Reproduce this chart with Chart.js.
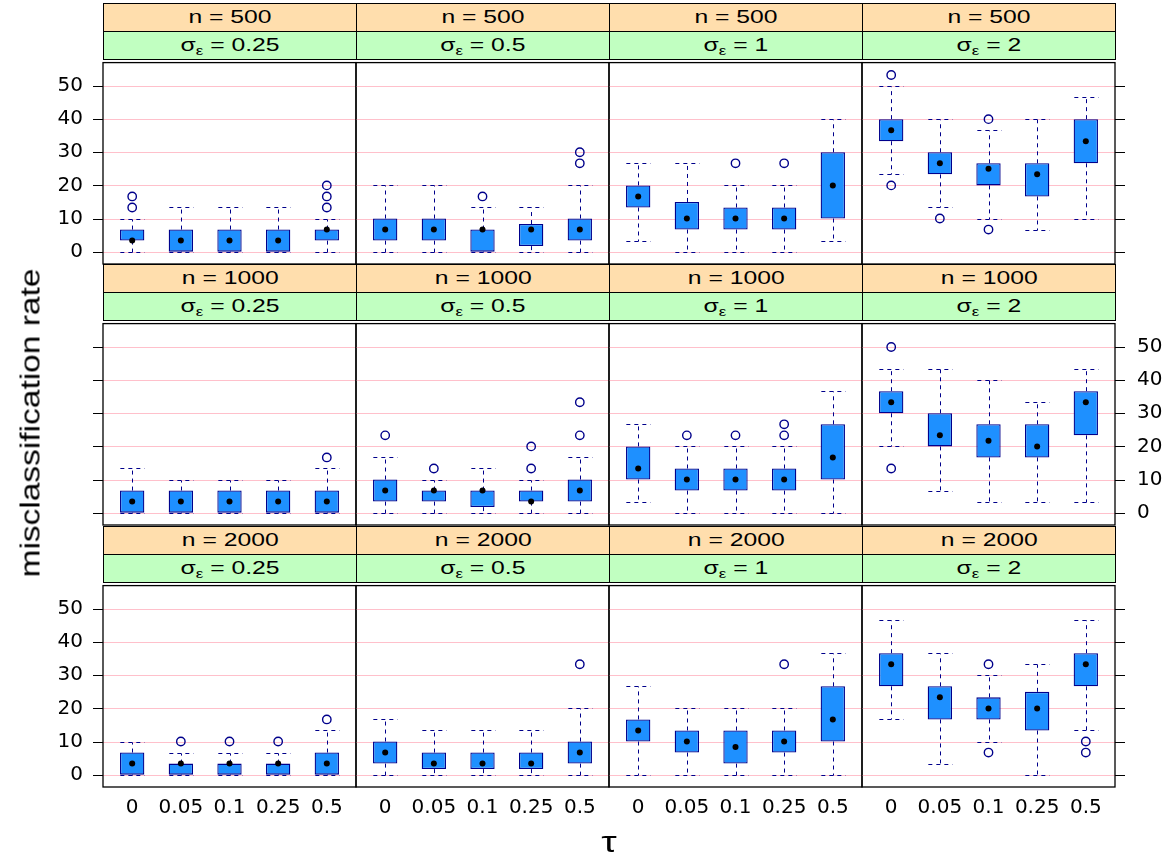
<!DOCTYPE html>
<html><head><meta charset="utf-8">
<script src="https://cdn.jsdelivr.net/npm/chart.js@4.4.1/dist/chart.umd.min.js"></script>
<style>
html,body{margin:0;padding:0;background:#fff;}
#fig{position:relative;width:1170px;height:861px;overflow:hidden;font-family:"Liberation Sans",Arial,sans-serif;}
.strip{position:absolute;box-sizing:border-box;border:1px solid #000;text-align:center;color:#000;white-space:nowrap;}
.strip span{display:inline-block;font-size:19px;line-height:26px;transform:scaleX(1.3);transform-origin:50% 50%;}
.s1{background:#FFDEAD;}
.s2{background:#C1FFC1;}
.strip sub{font-size:13px;vertical-align:-4px;line-height:0;}
canvas{position:absolute;}
.ylab{position:absolute;left:31px;top:423px;transform:translate(-50%,-50%) rotate(-90deg) scaleX(1.24);font-size:27px;white-space:nowrap;}
.xlab{position:absolute;left:609px;top:842px;transform:translate(-50%,-50%) scaleX(1.3);font-size:30px;}
</style></head><body><div id="fig"></div>
<script>
// facet levels and axis labels
const nLevels = ['500', '1000', '2000'];
const sigmaLevels = ['0.25', '0.5', '1', '2'];
const tauLabels = ['0', '0.05', '0.1', '0.25', '0.5'];
const yTicks = [0, 10, 20, 30, 40, 50];
const yMin = -3.73, yMax = 57.07;

// panels in reading order: n=500 (σ 0.25,0.5,1,2), n=1000 (...), n=2000 (...)
const lowerWhisker = [
  [0, 0, 0, 0, 0], [0, 0, 0, 0, 0], [3.33, 0, 0, 0, 3.33], [23.33, 13.33, 10, 6.67, 10],
  [0, 0, 0, 0, 0], [0, 0, 0, 0, 0], [3.33, 0, 0, 0, 0], [20, 6.67, 3.33, 3.33, 3.33],
  [0, 0, 0, 0, 0], [0, 0, 0, 0, 0], [0, 0, 0, 0, 0], [16.67, 3.33, 10, 0, 13.33]
];
const lowerHinge = [
  [3.33, 0, 0, 0, 3.33], [3.33, 3.33, 0, 1.67, 3.33], [13.33, 6.67, 6.67, 6.67, 10], [33.33, 23.33, 20, 16.67, 26.67],
  [0, 0, 0, 0, 0], [3.33, 3.33, 1.67, 3.33, 3.33], [10, 6.67, 6.67, 6.67, 10], [30, 20, 16.67, 16.67, 23.33],
  [0, 0, 0, 0, 0], [3.33, 1.67, 1.67, 1.67, 3.33], [10, 6.67, 3.33, 6.67, 10], [26.67, 16.67, 16.67, 13.33, 26.67]
];
const medians = [
  [3.33, 3.33, 3.33, 3.33, 6.67], [6.67, 6.67, 6.67, 6.67, 6.67], [16.67, 10, 10, 10, 20], [36.67, 26.67, 25, 23.33, 33.33],
  [3.33, 3.33, 3.33, 3.33, 3.33], [6.67, 6.67, 6.67, 3.33, 6.67], [13.33, 10, 10, 10, 16.67], [33.33, 23.33, 21.67, 20, 33.33],
  [3.33, 3.33, 3.33, 3.33, 3.33], [6.67, 3.33, 3.33, 3.33, 6.67], [13.33, 10, 8.33, 10, 16.67], [33.33, 23.33, 20, 20, 33.33]
];
const upperHinge = [
  [6.67, 6.67, 6.67, 6.67, 6.67], [10, 10, 6.67, 8.33, 10], [20, 15, 13.33, 13.33, 30], [40, 30, 26.67, 26.67, 40],
  [6.67, 6.67, 6.67, 6.67, 6.67], [10, 6.67, 6.67, 6.67, 10], [20, 13.33, 13.33, 13.33, 26.67], [36.67, 30, 26.67, 26.67, 36.67],
  [6.67, 3.33, 3.33, 3.33, 6.67], [10, 6.67, 6.67, 6.67, 10], [16.67, 13.33, 13.33, 13.33, 26.67], [36.67, 26.67, 23.33, 25, 36.67]
];
const upperWhisker = [
  [10, 13.33, 13.33, 13.33, 10], [20, 20, 13.33, 13.33, 20], [26.67, 26.67, 20, 20, 40], [50, 40, 36.67, 40, 46.67],
  [13.33, 10, 10, 10, 13.33], [16.67, 10, 13.33, 10, 16.67], [26.67, 20, 20, 20, 36.67], [43.33, 43.33, 40, 33.33, 43.33],
  [10, 6.67, 6.67, 6.67, 13.33], [16.67, 13.33, 13.33, 13.33, 20], [26.67, 20, 20, 20, 36.67], [46.67, 36.67, 30, 33.33, 46.67]
];
const outliers = [
  [[13.33, 16.67], [], [], [], [13.33, 16.67, 20]],
  [[], [], [16.67], [], [26.67, 30]],
  [[], [], [26.67], [26.67], []],
  [[53.33, 20], [10], [40, 6.67], [], []],
  [[], [], [], [], [16.67]],
  [[23.33], [13.33], [], [13.33, 20], [23.33, 33.33]],
  [[], [23.33], [23.33], [23.33, 26.67], []],
  [[50, 13.33], [], [], [], []],
  [[], [10], [10], [10], [16.67]],
  [[], [], [], [], [33.33]],
  [[], [], [], [33.33], []],
  [[], [], [33.33, 6.67], [], [10, 6.67]]
];

// layout
const colLeft = [103, 356, 609, 862];
const colW = 253;
const rowTop = [3, 264, 526];
const stripH = 28, plotH = 205;
const M = 60, T = 2, B = 50;
const FONT = 'DejaVu Sans, Liberation Sans, sans-serif';
const DARK = '#00008B';

Chart.defaults.borderColor = 'rgba(0,0,0,0)';
Chart.defaults.scale.grid.display = false;

const fig = document.getElementById('fig');

// pink reference lines and black tick marks, placed with the y scale
const gridPlugin = {
  id: 'refgrid',
  beforeDatasetsDraw(chart, args, opts) {
    const { ctx, chartArea: a } = chart;
    const y = chart.scales.y;
    ctx.save();
    ctx.fillStyle = '#FFC0CB';
    yTicks.forEach(v => {
      const py = Math.round(y.getPixelForValue(v));
      ctx.fillRect(a.left, py, a.right - a.left, 1);
    });
    ctx.fillStyle = '#000';
    yTicks.forEach(v => {
      const py = Math.round(y.getPixelForValue(v));
      if (opts.leftTicks) ctx.fillRect(a.left - 10, py, 10, 1);
      if (opts.rightTicks) ctx.fillRect(a.right, py, 10, 1);
    });
    ctx.restore();
  }
};

const whiskerPlugin = {
  id: 'whiskers',
  beforeDatasetsDraw(chart, args, opts) {
    const { ctx } = chart;
    const x = chart.scales.x, y = chart.scales.y;
    const p = opts.panel;
    const hw = x.getPixelForValue(1.25) - x.getPixelForValue(1);
    ctx.save();
    ctx.strokeStyle = DARK;
    ctx.lineWidth = 1;
    ctx.setLineDash([4, 4]);
    tauLabels.forEach((t, i) => {
      const px = Math.round(x.getPixelForValue(i + 1)) + 0.5;
      const lo = Math.round(y.getPixelForValue(lowerWhisker[p][i])) + 0.5;
      const q1 = y.getPixelForValue(lowerHinge[p][i]);
      const q3 = y.getPixelForValue(upperHinge[p][i]);
      const hi = Math.round(y.getPixelForValue(upperWhisker[p][i])) + 0.5;
      ctx.beginPath();
      ctx.moveTo(px, q3); ctx.lineTo(px, hi);
      ctx.moveTo(px, q1); ctx.lineTo(px, lo);
      ctx.moveTo(px - hw, hi); ctx.lineTo(px + hw, hi);
      ctx.moveTo(px - hw, lo); ctx.lineTo(px + hw, lo);
      ctx.stroke();
    });
    ctx.restore();
  }
};

const framePlugin = {
  id: 'frame',
  afterDraw(chart) {
    const { ctx, chartArea: a } = chart;
    ctx.save();
    ctx.strokeStyle = '#000';
    ctx.lineWidth = 1.3;
    ctx.strokeRect(a.left, a.top, a.right - a.left, a.bottom - a.top);
    ctx.restore();
  }
};

function fixAxis(size, dim) {
  return (s) => {
    s[dim] = size;
    s.paddingTop = 0; s.paddingBottom = 0; s.paddingLeft = 0; s.paddingRight = 0;
  };
}

for (let r = 0; r < 3; r++) {
  for (let c = 0; c < 4; c++) {
    const p = r * 4 + c;
    const left = colLeft[c], top = rowTop[r];
    // strips
    const s1 = document.createElement('div');
    s1.className = 'strip s1';
    s1.style.cssText = `left:${left}px;top:${top}px;width:${colW + 1}px;height:${stripH + 1}px;`;
    s1.innerHTML = '<span>n = ' + nLevels[r] + '</span>';
    fig.appendChild(s1);
    const s2 = document.createElement('div');
    s2.className = 'strip s2';
    s2.style.cssText = `left:${left}px;top:${top + stripH}px;width:${colW + 1}px;height:${stripH + 1}px;`;
    s2.innerHTML = '<span>σ<sub>ε</sub> = ' + sigmaLevels[c] + '</span>';
    fig.appendChild(s2);

    // chart canvas
    const plotTop = top + 2 * stripH;
    const cv = document.createElement('canvas');
    const cw = colW + 2 * M, ch = plotH + T + B;
    cv.width = cw; cv.height = ch;
    cv.style.cssText = `left:${left - M}px;top:${plotTop - T}px;width:${cw}px;height:${ch}px;`;
    fig.appendChild(cv);

    const leftTicks = c === 0, rightTicks = c === 3;
    const leftLabels = c === 0 && r !== 1;
    const rightLabels = c === 3 && r === 1;
    const xLabels = r === 2;

    const boxData = tauLabels.map((t, i) => ({ x: i + 1, y: [lowerHinge[p][i], upperHinge[p][i]] }));
    const medData = tauLabels.map((t, i) => ({ x: i + 1, y: medians[p][i] }));
    const outData = [];
    outliers[p].forEach((arr, i) => arr.forEach(v => outData.push({ x: i + 1, y: v })));

    new Chart(cv, {
      type: 'bar',
      data: {
        datasets: [
          { type: 'bar', data: boxData, backgroundColor: '#1E90FF', borderColor: DARK, borderWidth: 1.3,
            borderSkipped: false, barPercentage: 0.5, categoryPercentage: 1, grouped: false, order: 3 },
          { type: 'scatter', data: medData, pointRadius: 3, pointBackgroundColor: '#000', pointBorderWidth: 0,
            pointHoverRadius: 3, order: 1 },
          { type: 'scatter', data: outData, pointRadius: 4.2, pointBackgroundColor: 'rgba(0,0,0,0)',
            pointBorderColor: DARK, pointBorderWidth: 1.4, order: 2 }
        ]
      },
      options: {
        responsive: false, animation: false, events: [],
        layout: { padding: { top: T, left: 0, right: 0, bottom: 0 } },
        plugins: { legend: { display: false }, tooltip: { enabled: false },
          whiskers: { panel: p }, refgrid: { leftTicks: leftTicks, rightTicks: rightTicks } },
        scales: {
          x: {
            type: 'linear', position: 'bottom', min: 0.4, max: 5.6, offset: false,
            afterBuildTicks: (s) => { s.ticks = tauLabels.map((t, i) => ({ value: i + 1 })); },
            afterFit: fixAxis(B, 'height'),
            grid: { display: false, drawTicks: false, drawOnChartArea: false },
            border: { display: false },
            ticks: { display: xLabels, autoSkip: false, maxRotation: 0, padding: 9, color: '#000',
              font: { family: FONT, size: 20 }, callback: (v, i) => tauLabels[i] }
          },
          y: {
            type: 'linear', position: 'left', min: yMin, max: yMax, offset: false, beginAtZero: false,
            afterBuildTicks: (s) => { s.ticks = yTicks.map(v => ({ value: v })); },
            afterFit: fixAxis(M, 'width'),
            grid: { display: false, drawOnChartArea: false, drawTicks: false },
            border: { display: false },
            ticks: { display: leftLabels, padding: 20, color: '#000', font: { family: FONT, size: 20 } }
          },
          y2: {
            type: 'linear', position: 'right', min: yMin, max: yMax, offset: false, beginAtZero: false,
            afterBuildTicks: (s) => { s.ticks = yTicks.map(v => ({ value: v })); },
            afterFit: fixAxis(M, 'width'),
            grid: { display: false, drawOnChartArea: false, drawTicks: false },
            border: { display: false },
            ticks: { display: rightLabels, padding: 22, color: '#000', font: { family: FONT, size: 20 } }
          }
        }
      },
      plugins: [gridPlugin, whiskerPlugin, framePlugin]
    });
  }
}

const yl = document.createElement('div');
yl.className = 'ylab'; yl.textContent = 'misclassification rate';
fig.appendChild(yl);
const xl = document.createElement('div');
xl.className = 'xlab'; xl.textContent = 'τ';
fig.appendChild(xl);
</script></body></html>
